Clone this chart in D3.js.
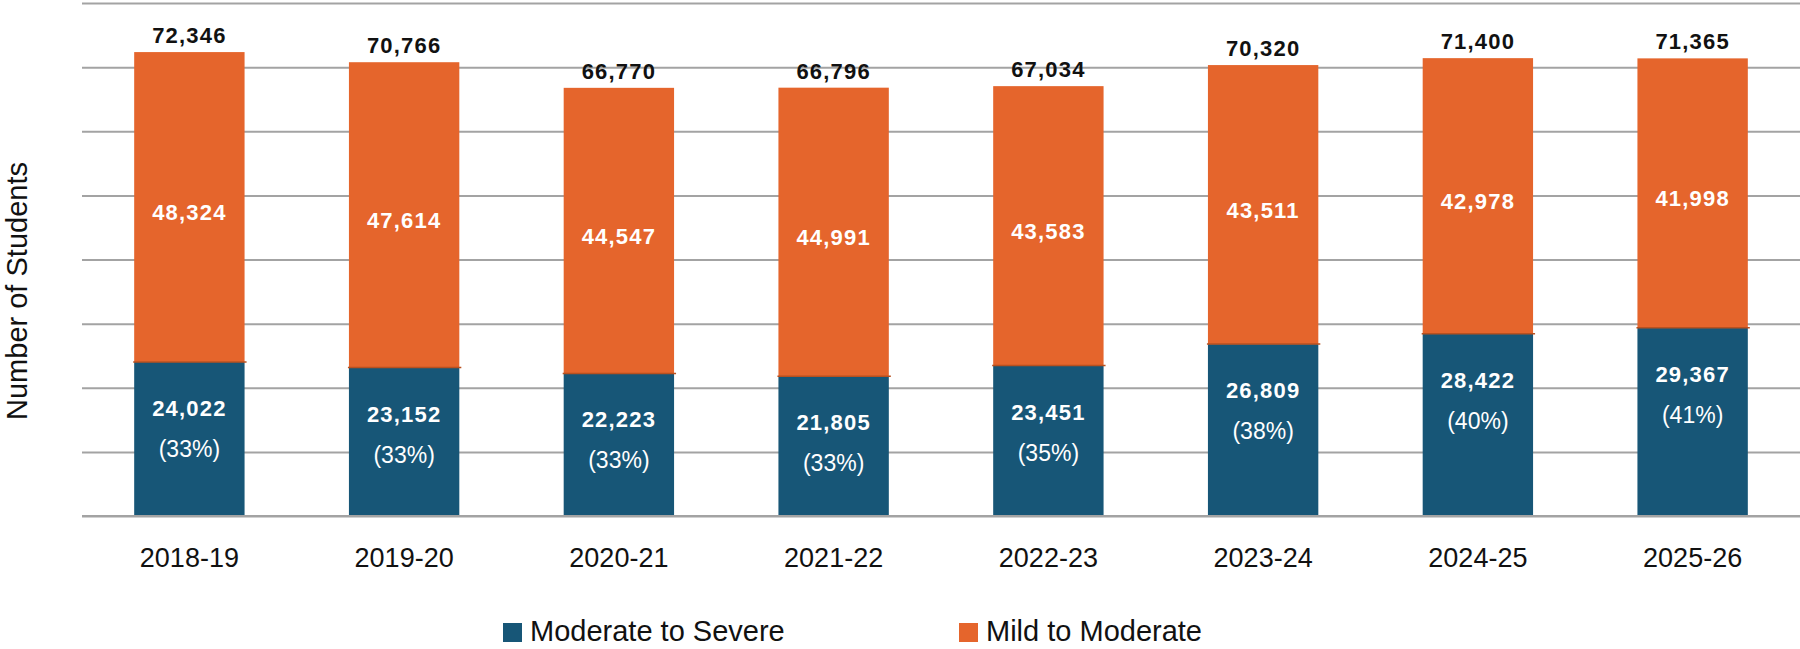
<!DOCTYPE html>
<html>
<head>
<meta charset="utf-8">
<script src="https://cdn.jsdelivr.net/npm/d3@7"></script>
<style>
  html, body { margin: 0; padding: 0; background: #fff; }
  svg { display: block; }
</style>
</head>
<body>
<svg id="chart" width="1800" height="649"></svg>
<script>
const categories = ["2018-19", "2019-20", "2020-21", "2021-22", "2022-23", "2023-24", "2024-25", "2025-26"];
const moderateToSevere = [24022, 23152, 22223, 21805, 23451, 26809, 28422, 29367];
const mildToModerate = [48324, 47614, 44547, 44991, 43583, 43511, 42978, 41998];
const totals = [72346, 70766, 66770, 66796, 67034, 70320, 71400, 71365];
const percentLabels = ["(33%)", "(33%)", "(33%)", "(33%)", "(35%)", "(38%)", "(40%)", "(41%)"];
const yTicks = [0, 10000, 20000, 30000, 40000, 50000, 60000, 70000, 80000];
const seriesNames = ["Moderate to Severe", "Mild to Moderate"];

(function () {
const colors = { "Moderate to Severe": "#175677", "Mild to Moderate": "#E5652C" };
const FONT = "'Liberation Sans', Arial, Helvetica, sans-serif";

const svg = d3.select("#chart");
const plotLeft = 82, plotRight = 1800, plotTop = 3, plotBottom = 516;

const x = d3.scaleBand().domain(categories).range([plotLeft, plotRight])
  .paddingInner(0.486).paddingOuter(0.243);
const y = d3.scaleLinear().domain([0, 80000]).range([plotBottom, plotTop]);

// gridlines
const grid = svg.append("g").attr("class", "grid")
  .attr("transform", `translate(${plotLeft},0)`)
  .call(d3.axisLeft(y).tickValues(yTicks).tickSize(-(plotRight - plotLeft)).tickFormat(""));
grid.select(".domain").remove();
grid.selectAll(".tick line").attr("stroke", "#a3a3a3").attr("stroke-width", 2);

// stacked data
const rows = categories.map((c, i) => ({
  cat: c,
  "Moderate to Severe": moderateToSevere[i],
  "Mild to Moderate": mildToModerate[i],
  total: totals[i],
  pct: percentLabels[i]
}));
const stack = d3.stack().keys(seriesNames)(rows);

const layers = svg.append("g").selectAll("g").data(stack).join("g")
  .attr("fill", d => colors[d.key]);
layers.selectAll("rect").data(d => d).join("rect")
  .attr("x", d => x(d.data.cat))
  .attr("width", x.bandwidth())
  .attr("y", d => y(d[1]))
  .attr("height", d => y(d[0]) - y(d[1]));

// thin boundary line between segments
svg.append("g").selectAll("line").data(rows).join("line")
  .attr("x1", d => x(d.cat) - 1)
  .attr("x2", d => x(d.cat) + x.bandwidth() + 2)
  .attr("y1", d => y(d["Moderate to Severe"]))
  .attr("y2", d => y(d["Moderate to Severe"]))
  .attr("stroke", "#b8501f").attr("stroke-width", 1.5);

// baseline
svg.append("line")
  .attr("x1", plotLeft).attr("x2", plotRight)
  .attr("y1", y(0)).attr("y2", y(0))
  .attr("stroke", "#a3a3a3").attr("stroke-width", 2);

const fmt = d3.format(",");

// total labels
svg.append("g").selectAll("text").data(rows).join("text")
  .attr("x", d => x(d.cat) + x.bandwidth() / 2)
  .attr("y", d => y(d.total) - 9)
  .attr("text-anchor", "middle")
  .attr("font-family", FONT).attr("font-weight", "bold")
  .attr("font-size", 22).attr("letter-spacing", 1.2)
  .attr("fill", "#111")
  .text(d => fmt(d.total));

// orange segment labels
svg.append("g").selectAll("text").data(rows).join("text")
  .attr("x", d => x(d.cat) + x.bandwidth() / 2)
  .attr("y", d => (y(d.total) + y(d["Moderate to Severe"])) / 2 + 13)
  .attr("text-anchor", "middle")
  .attr("font-family", FONT).attr("font-weight", "bold")
  .attr("font-size", 22).attr("letter-spacing", 1.2)
  .attr("fill", "#fff")
  .text(d => fmt(d["Mild to Moderate"]));

// blue segment labels
svg.append("g").selectAll("text").data(rows).join("text")
  .attr("x", d => x(d.cat) + x.bandwidth() / 2)
  .attr("y", d => y(d["Moderate to Severe"]) + 54)
  .attr("text-anchor", "middle")
  .attr("font-family", FONT).attr("font-weight", "bold")
  .attr("font-size", 22).attr("letter-spacing", 1.2)
  .attr("fill", "#fff")
  .text(d => fmt(d["Moderate to Severe"]));

svg.append("g").selectAll("text").data(rows).join("text")
  .attr("x", d => x(d.cat) + x.bandwidth() / 2)
  .attr("y", d => y(d["Moderate to Severe"]) + 95)
  .attr("text-anchor", "middle")
  .attr("font-family", FONT)
  .attr("font-size", 23)
  .attr("fill", "#fff")
  .text(d => d.pct);

// x axis labels
const xAxis = svg.append("g")
  .attr("transform", `translate(0,${plotBottom})`)
  .call(d3.axisBottom(x).tickSize(0).tickPadding(32));
xAxis.select(".domain").remove();
xAxis.selectAll("text")
  .attr("font-family", FONT).attr("font-size", 27).attr("fill", "#111");

// y axis title
svg.append("text")
  .attr("transform", `translate(27,291) rotate(-90)`)
  .attr("text-anchor", "middle")
  .attr("font-family", FONT).attr("font-size", 29).attr("fill", "#111")
  .text("Number of Students");

// legend
const legendX = [503, 959];
const legend = svg.append("g").selectAll("g").data(seriesNames).join("g")
  .attr("transform", (d, i) => `translate(${legendX[i]},623)`);
legend.append("rect").attr("width", 19).attr("height", 19).attr("fill", d => colors[d]);
legend.append("text").attr("x", 27).attr("y", 18)
  .attr("font-family", FONT).attr("font-size", 29).attr("fill", "#111")
  .text(d => d);
})();
</script>
</body>
</html>
